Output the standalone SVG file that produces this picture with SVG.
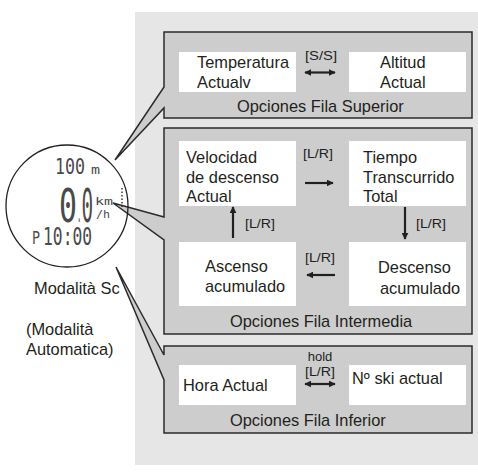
<svg xmlns="http://www.w3.org/2000/svg" width="478" height="473" viewBox="0 0 478 473">
<defs>
<style>
.t{font-family:"Liberation Sans",Arial,sans-serif;font-size:16.4px;fill:#231f20}
.s{font-family:"Liberation Sans",Arial,sans-serif;font-size:13px;fill:#231f20}
.panel{fill:#cdcdcd;stroke:#2b2b2b;stroke-width:1.5;stroke-linejoin:miter}
.box{fill:#ffffff}
.arr{stroke:#231f20;stroke-width:2.2;fill:none}
.lcd{font-family:"DejaVu Sans Mono","Liberation Mono",monospace;font-weight:normal;fill:#4a4a4a}
</style>
<marker id="ah" viewBox="0 0 10 10" refX="9" refY="5" markerWidth="7" markerHeight="7" markerUnits="userSpaceOnUse" orient="auto-start-reverse">
<path d="M0,0 L10,5 L0,10 Z" fill="#231f20"/>
</marker>
</defs>
<rect x="0" y="0" width="478" height="473" fill="#ffffff"/>
<rect x="135" y="12" width="343" height="453" fill="#e6e6e6"/>

<g id="panel-superior">
<path class="panel" d="M164,32 H472 V118 H164 V108 L115,160 L164,87 Z"/>
<rect class="box" x="179" y="52" width="117" height="40"/>
<rect class="box" x="349" y="52" width="117" height="40"/>
<text class="t" x="197" y="68">Temperatura</text>
<text class="t" x="197" y="88">Actualv</text>
<text class="t" x="380" y="68">Altitud</text>
<text class="t" x="380" y="88">Actual</text>
<text class="t" x="237" y="112">Opciones Fila Superior</text>
</g>

<g id="panel-intermedia">
<path class="panel" d="M164,128 H472 V334 H164 V240 L113,203 L164,217 Z"/>
<rect class="box" x="179" y="141" width="117" height="65"/>
<rect class="box" x="349" y="141" width="117" height="65"/>
<rect class="box" x="179" y="242" width="117" height="64"/>
<rect class="box" x="349" y="242" width="117" height="64"/>
<text class="t" x="186" y="163">Velocidad</text>
<text class="t" x="186" y="182.5">de descenso</text>
<text class="t" x="186" y="202">Actual</text>
<text class="t" x="363" y="163">Tiempo</text>
<text class="t" x="363" y="182.5">Transcurrido</text>
<text class="t" x="363" y="202">Total</text>
<text class="t" x="205" y="272">Ascenso</text>
<text class="t" x="205" y="292">acumulado</text>
<text class="t" x="378" y="273">Descenso</text>
<text class="t" x="380" y="294">acumulado</text>
<text class="t" x="230" y="327">Opciones Fila Intermedia</text>
</g>

<g id="panel-inferior">
<path class="panel" d="M164,346 H472 V433 H164 V380 L116,267 L164,355 Z"/>
<rect class="box" x="179" y="365" width="117" height="40"/>
<rect class="box" x="349" y="365" width="117" height="40"/>
<text class="t" x="183" y="391">Hora Actual</text>
<text class="t" x="352" y="384">Nº ski actual</text>
<text class="t" x="230" y="426">Opciones Fila Inferior</text>
</g>

<g id="connectors">
<line class="arr" x1="305" y1="72.5" x2="335" y2="72.5" marker-start="url(#ah)" marker-end="url(#ah)"/>
<line class="arr" x1="305" y1="183" x2="333" y2="183" marker-end="url(#ah)"/>
<line class="arr" x1="405" y1="207" x2="405" y2="239" marker-end="url(#ah)"/>
<line class="arr" x1="335" y1="275" x2="307" y2="275" marker-end="url(#ah)"/>
<line class="arr" x1="233" y1="238" x2="233" y2="207" marker-end="url(#ah)"/>
<line class="arr" x1="305" y1="384" x2="335" y2="384" marker-start="url(#ah)" marker-end="url(#ah)"/>
<text class="s" x="305" y="60" textLength="32" lengthAdjust="spacingAndGlyphs">[S/S]</text>
<text class="s" x="303" y="158" textLength="30" lengthAdjust="spacingAndGlyphs">[L/R]</text>
<text class="s" x="245" y="228" textLength="30" lengthAdjust="spacingAndGlyphs">[L/R]</text>
<text class="s" x="416" y="228" textLength="30" lengthAdjust="spacingAndGlyphs">[L/R]</text>
<text class="s" x="305" y="262" textLength="30" lengthAdjust="spacingAndGlyphs">[L/R]</text>
<text class="s" x="320" y="361" text-anchor="middle" font-size="11.8">hold</text>
<text class="s" x="305" y="375.5" font-size="12" textLength="30" lengthAdjust="spacingAndGlyphs">[L/R]</text>
</g>

<g id="watch">
<circle cx="67" cy="206" r="61" fill="none" stroke="#231f20" stroke-width="1.3"/>
<text class="lcd" font-size="21.5" transform="translate(55,174) scale(0.773,1)">100</text>
<text class="lcd" font-size="12" transform="translate(91,174) scale(1.25,1)">m</text>
<text class="lcd" font-size="46" transform="translate(59,222) scale(0.65,1)">0</text>
<text class="lcd" font-size="24" transform="translate(77,222) scale(0.3,1)">.</text>
<text class="lcd" font-size="46" transform="translate(81.5,222) scale(0.42,1)">0</text>
<text class="lcd" font-size="10" transform="translate(95,205) scale(1.5,1)">km</text>
<text class="lcd" font-size="10" transform="translate(96,218) scale(1.17,1)">/h</text>
<line x1="122" y1="188" x2="122" y2="208" stroke="#3a3a3a" stroke-width="1.5" stroke-dasharray="1.5 2"/>
<text class="lcd" font-size="18" transform="translate(32,244) scale(0.74,1)">P</text>
<text class="lcd" font-size="24" transform="translate(43,245) scale(0.68,1)">10:00</text>
</g>

<g id="labels">
<text class="t" x="34" y="294">Modalità Sc</text>
<text class="t" x="26" y="335">(Modalità</text>
<text class="t" x="26" y="355">Automatica)</text>
</g>
</svg>
